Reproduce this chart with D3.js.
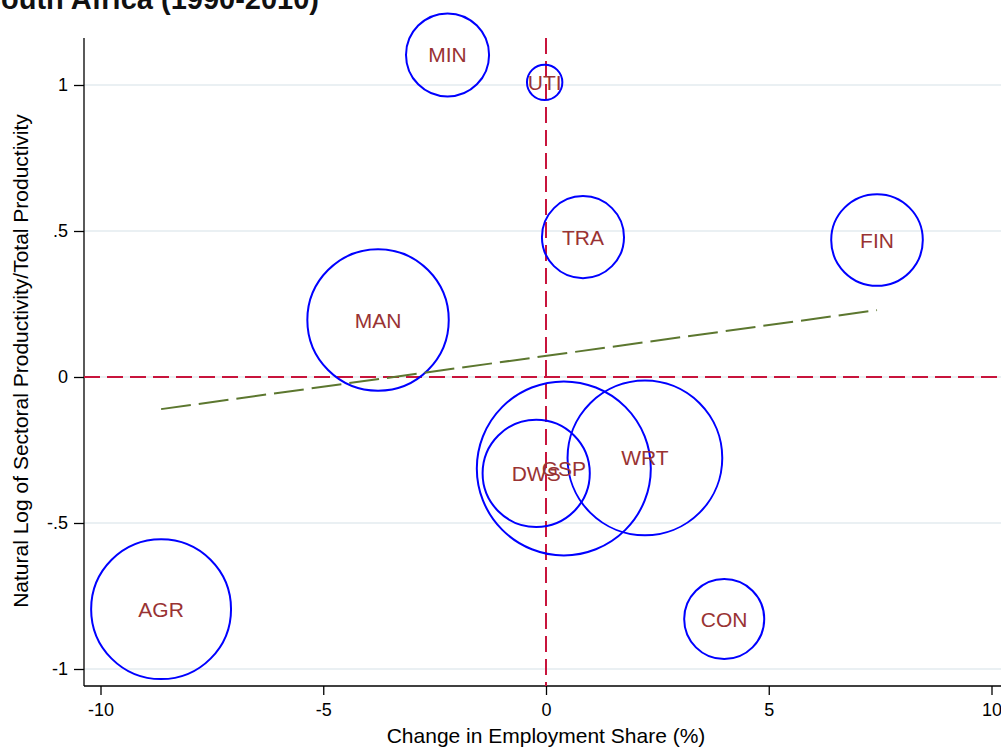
<!DOCTYPE html>
<html>
<head>
<meta charset="utf-8">
<script src="https://cdn.jsdelivr.net/npm/d3@7"></script>
<style>
  html, body { margin: 0; padding: 0; background: #fff; }
  svg { display: block; font-family: "Liberation Sans", Arial, Helvetica, sans-serif; }
</style>
</head>
<body>
<svg id="chart" width="1001" height="747"></svg>
<script>
// ---- data ----
const sectors = ["AGR", "MIN", "MAN", "UTI", "CON", "WRT", "TRA", "FIN", "GSP", "DWS"];
const empShareChange = [-8.64, -2.21, -3.77, -0.03, 4.00, 2.22, 0.83, 7.43, 0.40, -0.22];
const logRelProductivity = [-0.795, 1.103, 0.195, 1.009, -0.829, -0.277, 0.479, 0.469, -0.313, -0.330];
const employmentWeight = [13.9, 4.9, 14.2, 0.89, 4.55, 17.0, 4.78, 5.96, 21.5, 8.16];
const fitX = [-8.64, 7.43];
const fitY = [-0.110, 0.229];
const xTicks = [-10, -5, 0, 5, 10];
const xTickLabels = ["-10", "-5", "0", "5", "10"];
const yTicks = [-1, -0.5, 0, 0.5, 1];
const yTickLabels = ["-1", "-.5", "0", ".5", "1"];

const title = "South Africa (1990-2010)";
const xTitle = "Change in Employment Share (%)";
const yTitle = "Natural Log of Sectoral Productivity/Total Productivity";

// ---- layout ----
const svg = d3.select("#chart");
const plotLeft = 84, plotRight = 1012, plotTop = 38, plotBottom = 686;

const x = d3.scaleLinear().domain([-10, 10]).range([100.5, 991.5]);
const y = d3.scaleLinear().domain([-1, 1]).range([669, 85]);
const r = d3.scaleSqrt().domain([0, 21.5]).range([0, 87]);

const data = sectors.map((s, i) => ({
  name: s, x: empShareChange[i], y: logRelProductivity[i], w: employmentWeight[i]
}));

// title (partially cropped at top)
svg.append("text")
  .attr("x", 319).attr("y", 9)
  .attr("text-anchor", "end")
  .attr("font-size", 29).attr("font-weight", "bold")
  .attr("fill", "#111")
  .text(title);

// gridlines
svg.append("g").selectAll("line").data(yTicks).join("line")
  .attr("x1", plotLeft).attr("x2", plotRight)
  .attr("y1", d => y(d)).attr("y2", d => y(d))
  .attr("stroke", "#eaf0f3").attr("stroke-width", 2);

// y axis
const yAxis = d3.axisLeft(y).tickValues(yTicks)
  .tickFormat((d, i) => yTickLabels[i]).tickSize(10).tickPadding(6);
const gy = svg.append("g").attr("transform", `translate(${plotLeft},0)`).call(yAxis);
gy.select(".domain").attr("d", `M0,${plotTop}V${plotBottom}`).attr("stroke", "#000").attr("stroke-width", 1.3);
gy.selectAll(".tick line").attr("stroke", "#000").attr("stroke-width", 1.3);
gy.selectAll(".tick text").attr("font-size", 18).attr("fill", "#000")
  .attr("font-family", '"Liberation Sans", Arial, sans-serif');

// x axis
const xAxis = d3.axisBottom(x).tickValues(xTicks)
  .tickFormat((d, i) => xTickLabels[i]).tickSize(9).tickPadding(8);
const gx = svg.append("g").attr("transform", `translate(0,${plotBottom})`).call(xAxis);
gx.select(".domain").attr("d", `M${plotLeft},0H${plotRight}`).attr("stroke", "#000").attr("stroke-width", 1.3);
gx.selectAll(".tick line").attr("stroke", "#000").attr("stroke-width", 1.3);
gx.selectAll(".tick text").attr("font-size", 18).attr("fill", "#000")
  .attr("font-family", '"Liberation Sans", Arial, sans-serif');

// reference lines at zero
svg.append("line")
  .attr("x1", plotLeft).attr("x2", plotRight)
  .attr("y1", y(0)).attr("y2", y(0))
  .attr("stroke", "#c8143c").attr("stroke-width", 2)
  .attr("stroke-dasharray", "16 7");
svg.append("line")
  .attr("x1", x(0)).attr("x2", x(0))
  .attr("y1", plotTop).attr("y2", plotBottom)
  .attr("stroke", "#c8143c").attr("stroke-width", 2)
  .attr("stroke-dasharray", "16 7");

// bubbles
svg.append("g").selectAll("circle").data(data).join("circle")
  .attr("cx", d => x(d.x)).attr("cy", d => y(d.y))
  .attr("r", d => r(d.w))
  .attr("fill", "none").attr("stroke", "#0000ff").attr("stroke-width", 2);

// fitted line
svg.append("path")
  .datum(fitX.map((v, i) => [v, fitY[i]]))
  .attr("d", d3.line().x(d => x(d[0])).y(d => y(d[1])))
  .attr("fill", "none").attr("stroke", "#5c772f").attr("stroke-width", 2)
  .attr("stroke-dasharray", "30 8");

// labels
svg.append("g").selectAll("text").data(data).join("text")
  .attr("x", d => x(d.x)).attr("y", d => y(d.y))
  .attr("dy", "0.36em")
  .attr("text-anchor", "middle")
  .attr("font-size", 21)
  .attr("fill", "#993333")
  .text(d => d.name);

// axis titles
svg.append("text")
  .attr("x", 546).attr("y", 743)
  .attr("text-anchor", "middle").attr("font-size", 21).attr("fill", "#000")
  .text(xTitle);
svg.append("text")
  .attr("transform", "translate(28,361) rotate(-90)")
  .attr("text-anchor", "middle").attr("font-size", 21).attr("fill", "#000")
  .text(yTitle);
</script>
</body>
</html>
